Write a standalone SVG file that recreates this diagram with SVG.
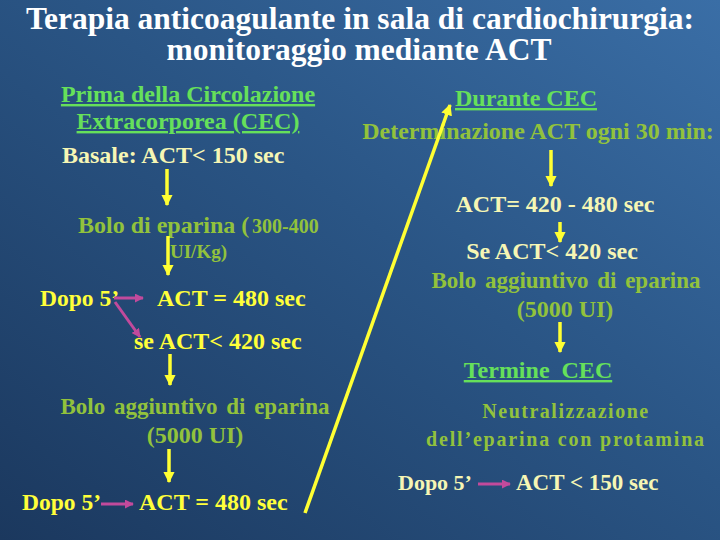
<svg xmlns="http://www.w3.org/2000/svg" width="720" height="540" viewBox="0 0 720 540">
<defs>
<linearGradient id="bg" x1="0" y1="1" x2="1" y2="0">
<stop offset="0" stop-color="#1b385e"/>
<stop offset="0.55" stop-color="#2a5585"/>
<stop offset="1" stop-color="#3a6ea6"/>
</linearGradient>
<marker id="ya" viewBox="0 0 10 10" refX="9" refY="5" markerWidth="3.2" markerHeight="3.2" orient="auto" markerUnits="strokeWidth">
<path d="M0,0 L10,5 L0,10 z" fill="#ffff33"/>
</marker>
<marker id="ma" viewBox="0 0 10 10" refX="9" refY="5" markerWidth="3" markerHeight="3" orient="auto" markerUnits="strokeWidth">
<path d="M0,0 L10,5 L0,10 z" fill="#c24a9c"/>
</marker>
<style>
.y{stroke:#ffff33;stroke-width:3.5;fill:none}
.m{stroke:#c24a9c;stroke-width:3;fill:none}
</style>
</defs>
<rect width="720" height="540" fill="url(#bg)"/>
<g id="title">
<text font-family="Liberation Serif" font-weight="bold" font-size="31.5" fill="#ffffff" x="360" y="29" text-anchor="middle">Terapia anticoagulante in sala di cardiochirurgia:</text>
<text font-family="Liberation Serif" font-weight="bold" font-size="31.5" fill="#ffffff" x="359" y="60" text-anchor="middle">monitoraggio mediante ACT</text>
</g>
<g id="prima">
<text font-family="Liberation Serif" font-weight="bold" font-size="24" fill="#66e05a" text-decoration="underline" x="188" y="102" text-anchor="middle">Prima della Circolazione</text>
<text font-family="Liberation Serif" font-weight="bold" font-size="24" fill="#66e05a" text-decoration="underline" x="188" y="129" text-anchor="middle">Extracorporea (CEC)</text>
</g>
<g id="basale"><text font-family="Liberation Serif" font-weight="bold" font-size="24" fill="#f6f6b4" x="62" y="163">Basale: ACT&lt; 150 sec</text></g>
<g id="bolo1">
<text font-family="Liberation Serif" font-weight="bold" font-size="24" fill="#92c23c" x="78" y="233">Bolo di eparina (</text>
<text font-family="Liberation Serif" font-weight="bold" font-size="20" fill="#92c23c" x="252" y="233">300-400</text>
<text font-family="Liberation Serif" font-weight="bold" font-size="19" fill="#92c23c" x="170" y="258">UI/Kg)</text>
</g>
<g id="dopo1">
<text font-family="Liberation Serif" font-weight="bold" font-size="23.5" fill="#ffff3a" x="40" y="306">Dopo 5’</text>
<text font-family="Liberation Serif" font-weight="bold" font-size="24" fill="#ffff3a" x="157" y="306">ACT = 480 sec</text>
</g>
<g id="se1"><text font-family="Liberation Serif" font-weight="bold" font-size="24" fill="#ffff3a" x="134" y="349">se ACT&lt; 420 sec</text></g>
<g id="bolo2">
<text font-family="Liberation Serif" font-weight="bold" font-size="23" fill="#92c23c" x="195" y="414" text-anchor="middle" word-spacing="3">Bolo aggiuntivo di eparina</text>
<text font-family="Liberation Serif" font-weight="bold" font-size="24" fill="#92c23c" x="195" y="443" text-anchor="middle">(5000 UI)</text>
</g>
<g id="dopo2">
<text font-family="Liberation Serif" font-weight="bold" font-size="23.5" fill="#ffff3a" x="22" y="510">Dopo 5’</text>
<text font-family="Liberation Serif" font-weight="bold" font-size="24" fill="#ffff3a" x="139" y="510">ACT = 480 sec</text>
</g>
<g id="durante">
<text font-family="Liberation Serif" font-weight="bold" font-size="24" fill="#66e05a" text-decoration="underline" x="526" y="106" text-anchor="middle">Durante CEC</text>
<text font-family="Liberation Serif" font-weight="bold" font-size="24" fill="#92c23c" x="538" y="139" text-anchor="middle">Determinazione ACT ogni 30 min:</text>
</g>
<g id="range"><text font-family="Liberation Serif" font-weight="bold" font-size="24" fill="#f6f6b4" x="555" y="212" text-anchor="middle">ACT= 420 - 480 sec</text></g>
<g id="se2">
<text font-family="Liberation Serif" font-weight="bold" font-size="24" fill="#f6f6b4" x="552" y="259" text-anchor="middle">Se ACT&lt; 420 sec</text>
<text font-family="Liberation Serif" font-weight="bold" font-size="23" fill="#92c23c" x="566" y="288" text-anchor="middle" word-spacing="3">Bolo aggiuntivo di eparina</text>
<text font-family="Liberation Serif" font-weight="bold" font-size="24" fill="#92c23c" x="565" y="317" text-anchor="middle">(5000 UI)</text>
</g>
<g id="termine"><text font-family="Liberation Serif" font-weight="bold" font-size="24" fill="#66e05a" text-decoration="underline" x="538" y="378" text-anchor="middle" xml:space="preserve">Termine  CEC</text></g>
<g id="neutral">
<text font-family="Liberation Serif" font-weight="bold" font-size="20" fill="#92c23c" x="566" y="418" text-anchor="middle" letter-spacing="1.5">Neutralizzazione</text>
<text font-family="Liberation Serif" font-weight="bold" font-size="20" fill="#92c23c" x="566" y="446" text-anchor="middle" letter-spacing="1.8">dell’eparina con protamina</text>
</g>
<g id="dopo3">
<text font-family="Liberation Serif" font-weight="bold" font-size="22" fill="#f6f6b4" x="398" y="490">Dopo 5’</text>
<text font-family="Liberation Serif" font-weight="bold" font-size="23" fill="#f6f6b4" x="516" y="490">ACT &lt; 150 sec</text>
</g>
<g id="connectors">
<line class="y" x1="167" y1="169" x2="167" y2="205" marker-end="url(#ya)"/>
<line class="y" x1="168" y1="236" x2="168" y2="275" marker-end="url(#ya)"/>
<line class="m" x1="114" y1="298" x2="143" y2="298" marker-end="url(#ma)"/>
<line class="m" x1="115" y1="302" x2="140" y2="337" marker-end="url(#ma)"/>
<line class="y" x1="170" y1="354" x2="170" y2="385" marker-end="url(#ya)"/>
<line class="y" x1="169" y1="449" x2="169" y2="482" marker-end="url(#ya)"/>
<line class="m" x1="101" y1="504" x2="133" y2="504" marker-end="url(#ma)"/>
<line class="y" x1="305" y1="513" x2="450" y2="105" marker-end="url(#ya)"/>
<line class="y" x1="551" y1="150" x2="551" y2="186" marker-end="url(#ya)"/>
<line class="y" x1="560" y1="222" x2="560" y2="242" marker-end="url(#ya)"/>
<line class="y" x1="560" y1="322" x2="560" y2="352" marker-end="url(#ya)"/>
<line class="m" x1="478" y1="484" x2="510" y2="484" marker-end="url(#ma)"/>
</g>
</svg>
